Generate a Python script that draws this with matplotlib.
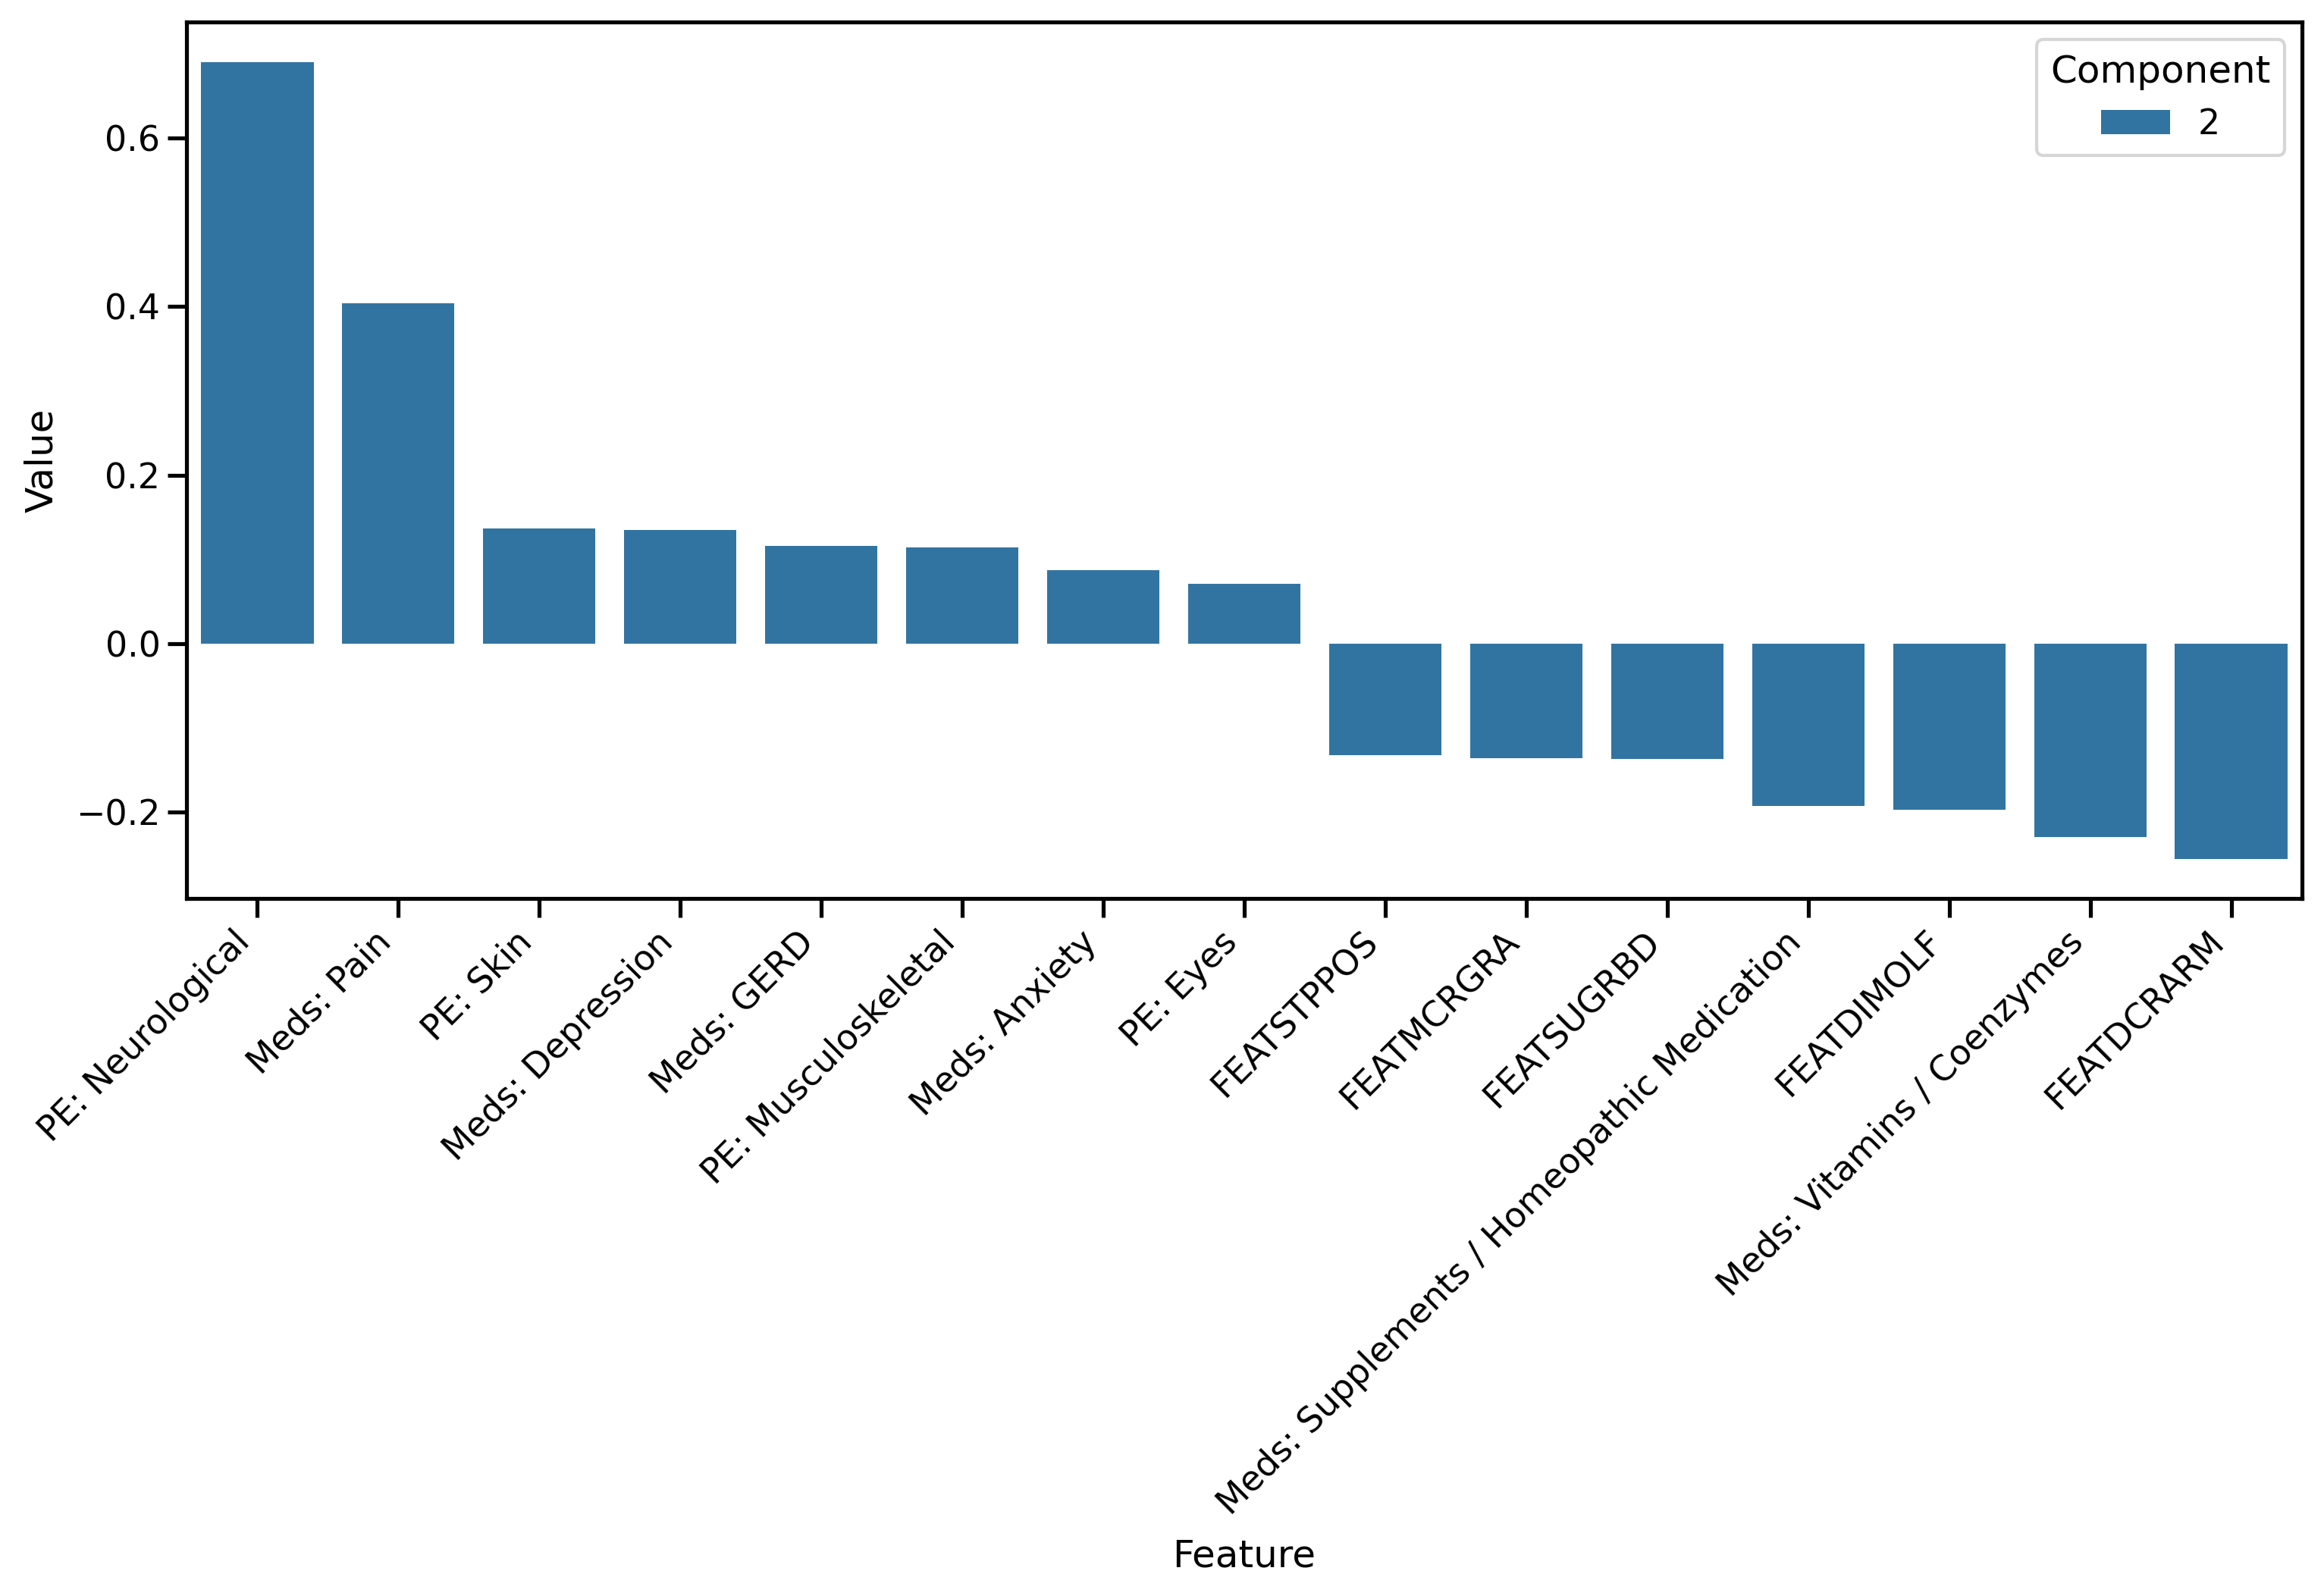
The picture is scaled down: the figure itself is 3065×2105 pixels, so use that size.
import matplotlib
matplotlib.use("Agg")
import matplotlib.pyplot as plt
import seaborn as sns
import pandas as pd

features = [
    "PE: Neurological", "Meds: Pain", "PE: Skin", "Meds: Depression", "Meds: GERD",
    "PE: Musculoskeletal", "Meds: Anxiety", "PE: Eyes", "FEATSTPPOS", "FEATMCRGRA",
    "FEATSUGRBD", "Meds: Supplements / Homeopathic Medication", "FEATDIMOLF",
    "Meds: Vitamins / Coenzymes", "FEATDCRARM",
]
values = [0.690, 0.404, 0.137, 0.135, 0.116, 0.114, 0.087, 0.071,
          -0.132, -0.136, -0.137, -0.192, -0.197, -0.229, -0.255]
component = ["2"] * len(features)

sns.set_context("talk")
plt.rcParams['font.family'] = ['DejaVu Sans']

df = pd.DataFrame({"Feature": features, "Value": values, "Component": component})

fig = plt.figure(figsize=(15.325, 10.525), dpi=200)
ax = fig.add_axes([0.0803, 0.437, 0.9102, 0.549])
sns.barplot(data=df, x="Feature", y="Value", hue="Component", ax=ax)
ax.set_xticks(range(len(features)))
ax.set_xticklabels(features, rotation=45, ha="right", rotation_mode="default")
ax.set_xlabel("Feature", labelpad=8)
ax.set_ylabel("Value", labelpad=7.5)
ax.legend(title="Component", loc="upper right")
fig.savefig("out.png", dpi=200)
